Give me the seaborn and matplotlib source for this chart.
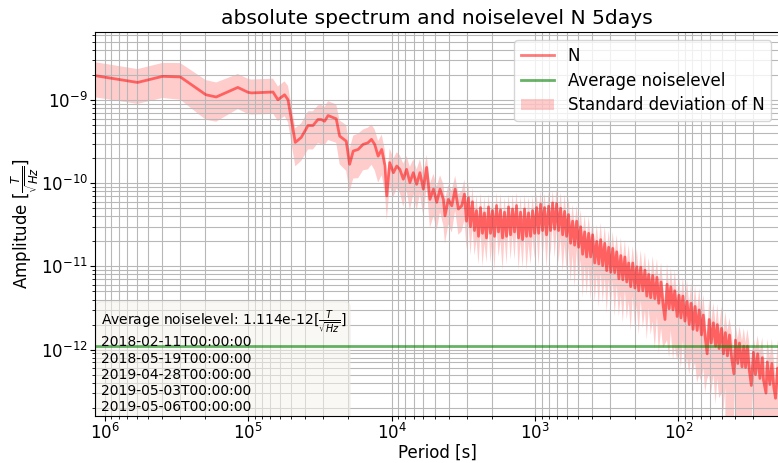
import matplotlib
matplotlib.use("Agg")
import matplotlib.pyplot as plt
from matplotlib.patches import FancyBboxPatch
import seaborn as sns
import pandas as pd

# period [s] of each spectral bin, mean amplitude of N and its standard deviation
period_s = [
    1.17e6, 5.9e5, 3.95e5, 2.97e5, 1.97e5, 1.67e5, 1.18e5, 1.0e5, 9.5e4, 7.3e4,
    6.7e4, 6.2e4, 5.57e4, 5.27e4, 4.69e4, 4.26e4, 3.82e4, 3.53e4, 3.26e4, 3.09e4,
    2.93e4, 2.77e4, 2.43e4, 2.30e4, 2.07e4, 1.96e4, 1.85e4, 1.71e4, 1.58e4, 1.46e4,
    1.38e4, 1.31e4, 1.24e4, 1.17e4, 1.11e4, 1.08e4, 1.03e4, 9.7e3, 9.2e3, 8.75e3,
    8.28e3, 7.85e3, 7.45e3, 7.05e3, 6.68e3, 6.34e3, 6.0e3, 5.69e3, 5.4e3, 5.1e3,
    4.84e3, 4.59e3, 4.35e3, 4.24e3, 4.02e3, 3.8e3, 3.6e3, 3.42e3, 3.24e3,
    3100, 3002, 2907, 2815, 2726, 2640, 2556, 2475, 2397, 2321,
    2248, 2177, 2108, 2041, 1977, 1914, 1853, 1795, 1738, 1683,
    1630, 1578, 1528, 1480, 1433, 1388, 1344, 1301, 1260, 1220,
    1182, 1144, 1108, 1073, 1039, 1006, 974, 943, 914, 885,
    857, 830, 803, 778, 753, 729, 706, 684, 662, 641,
    621, 602, 583, 564, 546, 529, 512, 496, 480, 465,
    450, 436, 422, 409, 396, 383, 371, 359, 348, 337,
    326, 316, 306, 296, 287, 278, 269, 260, 252, 244,
    236, 229, 222, 215, 208, 201, 195, 189, 183, 177,
    171, 166, 161, 156, 151, 146, 141, 137, 132, 128,
    124, 120, 116, 113, 109, 106, 102, 99, 96, 93,
    90, 87, 84, 81.5, 79, 76.5, 74, 71.5, 69, 67,
    65, 63, 61, 59, 57, 55, 53.5, 52, 50, 48.5,
    47, 45.5, 44, 42.5, 41, 40, 38.5, 37.5, 36, 35,
    34, 33, 32, 31, 30, 29, 28, 27, 26, 25.5,
    24.5, 24, 23, 22.3, 21.6, 21, 20.3, 19.7,
]

amp_N = [
    1.97e-9, 1.63e-9, 1.93e-9, 1.90e-9, 1.16e-9, 1.09e-9, 1.42e-9, 1.24e-9, 1.22e-9, 1.24e-9,
    1.25e-9, 1.01e-9, 1.16e-9, 1.01e-9, 3.1e-10, 3.56e-10, 4.95e-10, 4.95e-10, 5.84e-10, 5.84e-10,
    5.57e-10, 6.52e-10, 5.96e-10, 3.69e-10, 3.21e-10, 1.69e-10, 2.44e-10, 2.55e-10, 2.93e-10, 3.07e-10,
    3.37e-10, 2.93e-10, 2.12e-10, 2.55e-10, 1.61e-10, 7.05e-11, 1.77e-10, 1.34e-10, 1.61e-10, 1.47e-10,
    1.12e-10, 1.47e-10, 1.02e-10, 1.34e-10, 9.7e-11, 1.34e-10, 8.5e-11, 1.55e-10, 6.4e-11, 8.5e-11,
    5.9e-11, 8.5e-11, 6.4e-11, 4.06e-11, 6.4e-11, 5.35e-11, 8.5e-11, 4.9e-11, 5.35e-11,
    7.4e-11, 3.5e-11, 6.7e-11, 3.0e-11, 6.0e-11, 2.7e-11, 4.7e-11, 2.3e-11, 5.1e-11, 2.5e-11,
    4.4e-11, 2.2e-11, 5.2e-11, 2.5e-11, 4.7e-11, 2.3e-11, 5.4e-11, 2.6e-11, 4.8e-11, 2.2e-11,
    4.5e-11, 2.3e-11, 5.2e-11, 2.4e-11, 4.9e-11, 2.6e-11, 5.4e-11, 2.2e-11, 4.5e-11, 2.1e-11,
    4.9e-11, 2.3e-11, 4.4e-11, 2.3e-11, 4.7e-11, 2.5e-11, 5.1e-11, 2.5e-11, 5.6e-11, 2.7e-11,
    5.1e-11, 2.4e-11, 5.3e-11, 2.7e-11, 5.8e-11, 2.8e-11, 5.7e-11, 2.7e-11, 5.0e-11, 2.4e-11,
    4.6e-11, 2.3e-11, 4.2e-11, 1.9e-11, 3.5e-11, 1.8e-11, 3.5e-11, 1.7e-11, 3.0e-11, 1.4e-11,
    2.6e-11, 1.3e-11, 2.5e-11, 1.3e-11, 2.4e-11, 1.1e-11, 2.0e-11, 1.07e-11, 2.1e-11, 1.02e-11,
    1.9e-11, 8.9e-12, 1.7e-11, 8.5e-12, 1.65e-11, 8.4e-12, 1.5e-11, 7.1e-12, 1.35e-11, 6.9e-12,
    1.3e-11, 6.5e-12, 1.1e-11, 5.7e-12, 1.1e-11, 5.5e-12, 9.9e-12, 5.1e-12, 9.8e-12, 5.1e-12,
    9.0e-12, 4.4e-12, 8.0e-12, 4.2e-12, 7.8e-12, 4.1e-12, 7.4e-12, 3.6e-12, 6.5e-12, 3.5e-12,
    2.3e-12, 6.1e-12, 3.1e-12, 5.7e-12, 3.0e-12, 5.1e-12, 2.5e-12, 4.5e-12, 2.4e-12, 4.4e-12,
    2.2e-12, 3.8e-12, 2.0e-12, 3.6e-12, 1.75e-12, 3.3e-12, 1.7e-12, 3.0e-12, 1.5e-12, 2.6e-12,
    1.4e-12, 8.9e-13, 2.3e-12, 1.2e-12, 2.1e-12, 1.1e-12, 2.0e-12, 1.03e-12, 1.8e-12, 8.9e-13,
    1.6e-12, 8.4e-13, 1.5e-12, 7.9e-13, 5.1e-13, 1.3e-12, 6.8e-13, 1.2e-12, 6.2e-13, 1.1e-12,
    6.1e-13, 1.1e-12, 5.6e-13, 3.7e-13, 9.3e-13, 5.0e-13, 8.9e-13, 4.5e-13, 8.0e-13, 4.3e-13,
    3.0e-13, 7.1e-13, 3.8e-13, 6.8e-13, 3.5e-13, 2.6e-13, 6.0e-13, 3.3e-13,
]

std_N = [
    8.9e-10, 7.3e-10, 8.7e-10, 8.9e-10, 5.8e-10, 5.4e-10, 6.4e-10, 5.6e-10, 5.5e-10, 5.6e-10,
    5.6e-10, 4.5e-10, 5.2e-10, 4.7e-10, 1.5e-10, 1.7e-10, 2.4e-10, 2.4e-10, 2.8e-10, 2.9e-10,
    2.7e-10, 3.2e-10, 2.9e-10, 2.0e-10, 1.8e-10, 9.0e-11, 1.3e-10, 1.4e-10, 1.5e-10, 1.6e-10,
    1.7e-10, 1.5e-10, 1.1e-10, 1.3e-10, 8.5e-11, 3.5e-11, 8.5e-11, 6.5e-11, 7.5e-11, 7.0e-11,
    6.0e-11, 6.5e-11, 5.5e-11, 6.0e-11, 5.0e-11, 6.0e-11, 4.5e-11, 6.5e-11, 3.5e-11, 4.5e-11,
    3.2e-11, 4.0e-11, 3.3e-11, 2.2e-11, 3.2e-11, 2.8e-11, 3.8e-11, 2.5e-11, 2.7e-11,
    3.75e-11, 1.9e-11, 3.4e-11, 1.65e-11, 3.0e-11, 1.35e-11, 2.6e-11, 1.25e-11, 2.5e-11, 1.5e-11,
    2.5e-11, 1.1e-11, 2.25e-11, 1.4e-11, 2.6e-11, 1.4e-11, 2.4e-11, 1.3e-11, 2.75e-11, 1.3e-11,
    2.25e-11, 1.25e-11, 2.25e-11, 1.2e-11, 2.5e-11, 1.4e-11, 2.4e-11, 1.3e-11, 2.5e-11, 1.15e-11,
    2.5e-11, 1.4e-11, 2.5e-11, 1.25e-11, 2.4e-11, 1.25e-11, 2.5e-11, 1.5e-11, 2.5e-11, 1.5e-11,
    2.5e-11, 1.45e-11, 2.6e-11, 1.35e-11, 2.5e-11, 1.55e-11, 2.9e-11, 1.6e-11, 2.8e-11, 1.55e-11,
    2.75e-11, 1.4e-11, 2.5e-11, 1.25e-11, 2.1e-11, 1.25e-11, 1.9e-11, 1.1e-11, 1.8e-11, 9.8e-12,
    1.55e-11, 8.5e-12, 1.5e-11, 9.1e-12, 1.3e-11, 7.2e-12, 1.2e-11, 7.5e-12, 1.25e-11, 6.6e-12,
    1.15e-11, 6.2e-12, 1.0e-11, 5.5e-12, 9.8e-12, 5.9e-12, 9.0e-12, 4.6e-12, 8.9e-12, 4.8e-12,
    7.8e-12, 4.2e-12, 7.2e-12, 4.0e-12, 6.6e-12, 3.6e-12, 6.5e-12, 3.6e-12, 5.9e-12, 3.3e-12,
    6.0e-12, 3.1e-12, 4.8e-12, 2.7e-12, 5.6e-12, 3.1e-12, 4.9e-12, 2.7e-12, 4.7e-12, 2.45e-12,
    1.15e-12, 4.8e-12, 2.3e-12, 4.0e-12, 2.25e-12, 4.0e-12, 1.75e-12, 3.5e-12, 1.8e-12, 3.1e-12,
    1.65e-12, 3.0e-12, 1.5e-12, 2.8e-12, 1.2e-12, 2.6e-12, 1.3e-12, 2.5e-12, 1.1e-12, 2.0e-12,
    1.1e-12, 4.5e-13, 1.8e-12, 9.0e-13, 1.6e-12, 8.8e-13, 1.55e-12, 7.7e-13, 1.5e-12, 7.1e-13,
    1.25e-12, 8.4e-13, 9.0e-13, 8.3e-13, 3.6e-13, 7.8e-13, 6.8e-13, 7.2e-13, 6.5e-13, 7.2e-13,
    6.1e-13, 6.6e-13, 6.2e-13, 2.6e-13, 5.6e-13, 5.3e-13, 5.8e-13, 5.0e-13, 6.0e-13, 4.7e-13,
    2.7e-13, 6.4e-13, 4.2e-13, 6.8e-13, 3.9e-13, 2.3e-13, 6.9e-13, 4.0e-13,
]

noise_level = 1.114e-12
dates = [
    "2018-02-11T00:00:00",
    "2018-05-19T00:00:00",
    "2019-04-28T00:00:00",
    "2019-05-03T00:00:00",
    "2019-05-06T00:00:00",
]

df = pd.DataFrame({"period": period_s, "amp": amp_N, "std": std_N})
df["lower"] = df["amp"] - df["std"]
df["upper"] = df["amp"] + df["std"]

plt.rcParams["font.size"] = 12
fig = plt.figure(figsize=(7.78, 4.63), dpi=100)
ax = fig.add_axes([0.122, 0.102, 0.88, 0.829])
ax.set_xscale("log")
ax.set_yscale("log")

ax.fill_between(df["period"], df["lower"], df["upper"], color="red", alpha=0.2,
                linewidth=0, label="Standard deviation of N")
sns.lineplot(data=df, x="period", y="amp", color="red", alpha=0.52, linewidth=2,
             sort=False, estimator=None, ax=ax, label="N")
ax.axhline(noise_level, color="green", alpha=0.6, linewidth=2, label="Average noiselevel")

ax.set_xlim(1.17e6, 19.7)
ax.set_ylim(1.6e-13, 6.6e-9)
ax.grid(True, which="both", color="#b8b8b8", linewidth=0.8)
ax.tick_params(which="major", pad=1.5)

ax.set_title("absolute spectrum and noiselevel N 5days", fontsize=14.6)
ax.set_xlabel("Period [s]", labelpad=1)
ax.set_ylabel(r"Amplitude [$\frac{T}{\sqrt{Hz}}$]", labelpad=0)

handles, labels = ax.get_legend_handles_labels()
order = [labels.index("N"), labels.index("Average noiselevel"), labels.index("Standard deviation of N")]
ax.legend([handles[i] for i in order], [labels[i] for i in order], loc="upper right",
          fontsize=12, labelspacing=0.4)

# info box in the lower left corner
box = FancyBboxPatch((0.0015, -0.02), 0.371, 0.317, boxstyle="round,pad=0,rounding_size=0.008",
                     mutation_aspect=1.78, transform=ax.transAxes, facecolor="#f6f4ee",
                     edgecolor="#e8e5de", alpha=0.55, zorder=1.8)
ax.add_patch(box)
ax.text(0.009, 0.2345, "Average noiselevel: %.3e" % noise_level + r"[$\frac{T}{\sqrt{Hz}}$]",
        transform=ax.transAxes, fontsize=10, va="baseline", ha="left")
ax.text(0.009, 0.004, "\n".join(dates), transform=ax.transAxes, fontsize=10,
        va="bottom", ha="left")

fig.savefig("out.png", dpi=100)
